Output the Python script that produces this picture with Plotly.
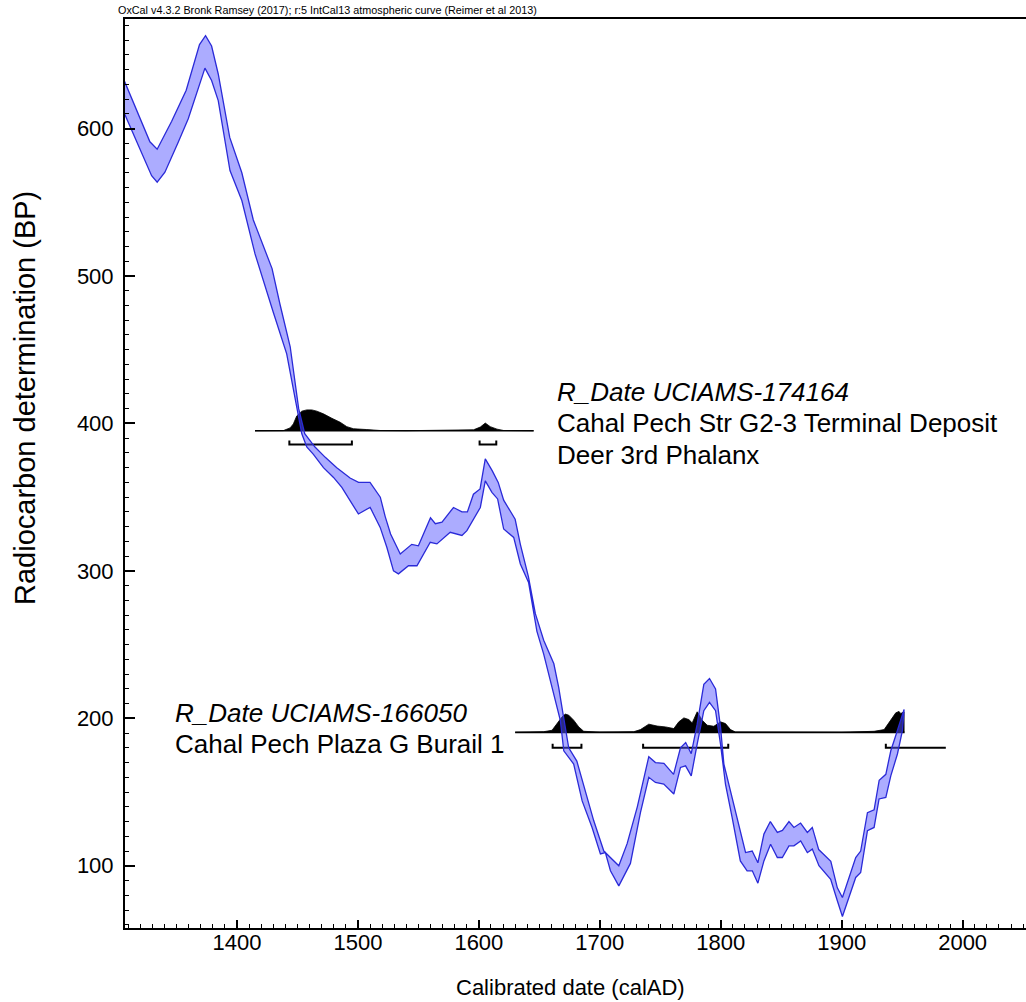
import plotly.graph_objects as go

# ---------------- data ----------------
# IntCal13 band: upper (higher BP) edge
curve_hi_year = [1307, 1328, 1334, 1346, 1358, 1369, 1374, 1379, 1384.5, 1394,
                 1404, 1413.5, 1429, 1435.5, 1444, 1451, 1456, 1464.5, 1473, 1482.5,
                 1493.5, 1500.5, 1510, 1518.5, 1522.5, 1527, 1535, 1544.5, 1550, 1560,
                 1564, 1569.5, 1579, 1586, 1590.5, 1595.5, 1601, 1605.3, 1611, 1616,
                 1620.5, 1630, 1634.3, 1641, 1646.7, 1653.6, 1662, 1666, 1670, 1674.3,
                 1681, 1688, 1695, 1703.3, 1708.8, 1715.7, 1722.6, 1731, 1740.5, 1746,
                 1753, 1761, 1766.7, 1771, 1775.6, 1780.5, 1786, 1790.7, 1795.7, 1799.8,
                 1802.6, 1808, 1815, 1820.5, 1826, 1830.7, 1835.7, 1841, 1846.8, 1851,
                 1856.4, 1860.5, 1866, 1871.6, 1875.7, 1881, 1891, 1896.4, 1900.6, 1906,
                 1911.6, 1915.7, 1921.3, 1926.8, 1931, 1936.5, 1940.6, 1946, 1951.6]
curve_hi_bp = [632, 591, 586, 605, 626, 657, 663, 656, 637, 594,
               570, 538, 505, 481, 452, 410, 393, 384, 377, 370,
               363, 360, 360, 350, 337, 325, 311.5, 318, 317, 336,
               332, 333, 343, 340, 340, 352, 355.6, 376, 368, 360,
               348, 335, 318, 296, 271, 253, 237, 221, 201, 180,
               171, 151, 130.5, 110, 105.6, 100, 115, 140, 174, 170,
               169.5, 162, 180, 183.6, 176, 196, 223, 227, 220, 194,
               169, 151, 126, 109, 110, 102, 121.5, 130, 122.6, 124,
               130, 126, 129, 122.6, 126, 111, 103, 85, 78.5, 92,
               105.6, 110, 136, 138, 158, 162, 178, 191.6, 206]
# IntCal13 band: lower (lower BP) edge
curve_lo_year = [1307, 1329.4, 1334, 1340.4, 1351.4, 1359.7, 1373.5, 1379, 1384.5, 1394.2,
                 1404, 1414.9, 1420.4, 1430, 1441.1, 1448, 1453.6, 1457.7, 1463.2, 1471.5,
                 1479.8, 1486.7, 1493.5, 1500.4, 1510.1, 1518.4, 1523.9, 1529.4, 1533.5, 1541.8,
                 1548.8, 1559.8, 1565.3, 1576.3, 1586, 1590.1, 1601.2, 1605.3, 1610.8, 1615.5,
                 1620.5, 1628.8, 1634.3, 1641.1, 1648, 1653.6, 1657.7, 1667.4, 1670.2, 1678.4,
                 1685.4, 1693.6, 1700.5, 1704.6, 1708.8, 1715.7, 1725.3, 1733.6, 1740.5, 1746,
                 1752.9, 1761.2, 1766.7, 1770.9, 1775.6, 1780.5, 1786, 1790.7, 1795.7, 1799.8,
                 1803.9, 1809.4, 1816.2, 1821.8, 1826.1, 1830.7, 1835.7, 1841.2, 1846.8, 1850.9,
                 1856.4, 1860.5, 1866.1, 1871.6, 1875.7, 1881.2, 1890.9, 1896.4, 1900.6, 1906,
                 1911.6, 1915.7, 1921.3, 1926.8, 1930.9, 1936.5, 1940.6, 1946.1, 1950.2]
curve_lo_bp = [610, 568, 563.6, 570.4, 590.7, 606.6, 641, 632.6, 619, 571.5,
               551.2, 515, 501.4, 475.4, 447.2, 417.7, 393, 384, 379, 370,
               363.4, 356.6, 347.6, 338.6, 343.1, 329.5, 316, 300, 298, 303.5,
               303.5, 319.4, 318.3, 326.2, 324, 327.3, 343, 361, 353.3, 348.8,
               328.4, 322.7, 304.7, 292.2, 259, 243.6, 230, 198.4, 178, 169,
               144, 126, 108, 109, 96.6, 86.4, 101.6, 136, 160, 156.5,
               155.4, 148.7, 166.7, 167.8, 161, 182.5, 205.2, 210.8, 205.2, 182.5,
               155.4, 132.8, 103.3, 96.6, 96.6, 88.2, 103.3, 114.6, 105.6, 105.6,
               113.5, 113.5, 116.8, 108.9, 111.3, 100, 90.9, 76.3, 65.6, 78.5,
               92.1, 95.5, 123.8, 126, 145.3, 146.4, 161, 175.8, 191.6]

# R_Date UCIAMS-174164 : calibrated probability (relative)
d1_year = [1414.9, 1430, 1438.3, 1443.9, 1446.6, 1449.4, 1453.6, 1457.7, 1461.8, 1466,
           1471.5, 1478.4, 1485.3, 1490.8, 1496.3, 1507.3, 1518.4, 1540, 1595.6, 1601.2,
           1605.3, 1609.4, 1615, 1620.5, 1645.3]
d1_prob = [0, 0, 0.01, 0.14, 0.33, 0.71, 0.94, 1.0, 1.0, 0.94,
           0.81, 0.6, 0.41, 0.2, 0.1, 0.06, 0.015, 0.005, 0.05, 0.18,
           0.37, 0.2, 0.08, 0.015, 0]
d1_ranges = [(1443.3, 1495.0), (1600.6, 1614.4)]

# R_Date UCIAMS-166050
d2_year = [1630, 1653.6, 1660.5, 1664.7, 1668.8, 1671.5, 1674.3, 1678.4, 1682.6, 1686.7,
           1700, 1728, 1733.6, 1740.5, 1747.4, 1754.3, 1761.2, 1765.3, 1769.5, 1773.6,
           1776.4, 1780.5, 1784.7, 1788.8, 1794.3, 1799.8, 1803.9, 1808.1, 1812.2, 1900,
           1926.8, 1935.1, 1939.2, 1944.7, 1947.4, 1948.8, 1951.6]
d2_prob = [0, 0.03, 0.1, 0.42, 0.74, 0.87, 0.82, 0.58, 0.26, 0.05,
           0.01, 0.03, 0.13, 0.39, 0.3, 0.26, 0.18, 0.5, 0.69, 0.61,
           0.45, 0.98, 0.58, 0.34, 0.29, 0.5, 0.42, 0.13, 0.015, 0,
           0.05, 0.13, 0.5, 0.93, 1.0, 0.9, 0.98]
d2_ranges = [(1661.0, 1684.8), (1735.8, 1806.2), (1936.5, 1986.1)]
d2_open_end = [False, False, True]

# placement of the two distributions on the BP axis
d1_base, d1_bracket, d1_end = 395.0, 385.7, 1645.3
d2_base, d2_bracket, d2_end = 190.5, 180.0, 1952.0
peak_h = 14.2
tick_h = 2.8

label1 = ["<i>R_Date UCIAMS-174164</i>", "Cahal Pech Str G2-3 Terminal Deposit", "Deer 3rd Phalanx"]
label2 = ["<i>R_Date UCIAMS-166050</i>", "Cahal Pech Plaza G Burail 1"]
header = "OxCal v4.3.2 Bronk Ramsey (2017); r:5 IntCal13 atmospheric curve (Reimer et al 2013)"

# ---------------- figure ----------------
fig = go.Figure()

def add_dist(years, probs, base, end):
    xs = [years[0]] + list(years) + [years[-1]]
    ys = [base] + [base + p * peak_h for p in probs] + [base]
    fig.add_trace(go.Scatter(x=xs, y=ys, mode="lines", fill="toself", fillcolor="black",
                             line=dict(color="black", width=0.8), hoverinfo="skip"))
    fig.add_trace(go.Scatter(x=[years[0], end], y=[base, base], mode="lines",
                             line=dict(color="black", width=1.6), hoverinfo="skip"))

def add_brackets(ranges, y, open_end=None):
    for i, (a, b) in enumerate(ranges):
        if open_end and open_end[i]:
            xs, ys = [a, a, b], [y + tick_h, y, y]
        else:
            xs, ys = [a, a, b, b], [y + tick_h, y, y, y + tick_h]
        fig.add_trace(go.Scatter(x=xs, y=ys, mode="lines",
                                 line=dict(color="black", width=2), hoverinfo="skip"))

add_dist(d1_year, d1_prob, d1_base, d1_end)
add_brackets(d1_ranges, d1_bracket)
add_dist(d2_year, d2_prob, d2_base, d2_end)
add_brackets(d2_ranges, d2_bracket, d2_open_end)

band_x = list(curve_hi_year) + list(curve_lo_year[::-1])
band_y = list(curve_hi_bp) + list(curve_lo_bp[::-1])
fig.add_trace(go.Scatter(x=band_x, y=band_y, mode="lines", fill="toself",
                         fillcolor="rgba(90,90,255,0.5)",
                         line=dict(color="#2a2ad8", width=1.3), hoverinfo="skip"))

FONT = "Arial, Liberation Sans, sans-serif"
W, H = 1026, 1002
ML, MR, MT, MB = 125, 0, 19, 74
pw, ph = W - ML - MR, H - MT - MB

def px2paper(px, py):
    return (px - ML) / pw, (H - MB - py) / ph

ann = []
for txt, yv in zip(label1, [421.6, 400.3, 378.9]):
    ann.append(dict(x=1662.9, y=yv, xref="x", yref="y", text=txt, showarrow=False,
                    xanchor="left", yanchor="middle", font=dict(size=26, family=FONT, color="black")))
for txt, yv in zip(label2, [203.9, 182.5]):
    ann.append(dict(x=1347.3, y=yv, xref="x", yref="y", text=txt, showarrow=False,
                    xanchor="left", yanchor="middle", font=dict(size=26, family=FONT, color="black")))

hx, hy = px2paper(116, 10)
ann.append(dict(x=hx, y=hy, xref="paper", yref="paper", text=header, showarrow=False,
                xanchor="left", yanchor="middle", font=dict(size=10.8, family=FONT, color="black")))
tx, ty = px2paper(570, 988)
ann.append(dict(x=tx, y=ty, xref="paper", yref="paper", text="Calibrated date (calAD)",
                showarrow=False, xanchor="center", yanchor="middle",
                font=dict(size=22, family=FONT, color="black")))
yx, yy = px2paper(25, 398)
ann.append(dict(x=yx, y=yy, xref="paper", yref="paper", text="Radiocarbon determination (BP)",
                showarrow=False, xanchor="center", yanchor="middle", textangle=-90,
                font=dict(size=29, family=FONT, color="black")))

fig.update_layout(
    width=W, height=H, margin=dict(l=ML, r=MR, t=MT, b=MB),
    plot_bgcolor="white", paper_bgcolor="white", showlegend=False,
    font=dict(family=FONT, color="black"),
    annotations=ann,
    xaxis=dict(range=[1307.4, 2052.4], showline=True, linecolor="black", linewidth=2,
               mirror=True, ticks="inside", ticklen=8, tickwidth=1.5, tickcolor="black",
               tick0=0, dtick=100, showgrid=False, zeroline=False, ticklabelstandoff=-6,
               tickfont=dict(size=22, family=FONT, color="black"),
               minor=dict(dtick=10, tick0=0, ticks="inside", ticklen=4, tickwidth=1,
                          tickcolor="black", showgrid=False)),
    yaxis=dict(range=[57.8, 674.3], showline=True, linecolor="black", linewidth=2,
               mirror=False, ticks="inside", ticklen=10, tickwidth=1.5, tickcolor="black",
               tick0=0, dtick=100, showgrid=False, zeroline=False, ticklabelstandoff=5,
               tickfont=dict(size=22, family=FONT, color="black"),
               minor=dict(dtick=10, tick0=0, ticks="inside", ticklen=4, tickwidth=1,
                          tickcolor="black", showgrid=False)),
)

fig.write_html("out.html", config={"displayModeBar": False},
               post_script="document.body.style.margin='0px';document.body.style.overflow='hidden';")
